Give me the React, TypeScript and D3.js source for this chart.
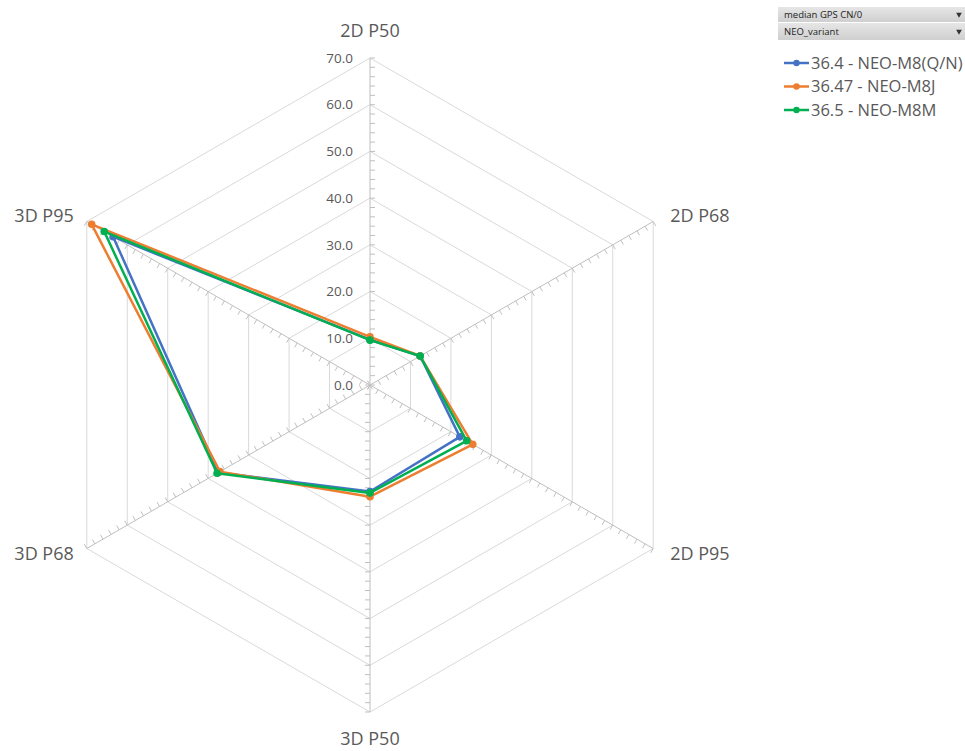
import React, { useEffect, useRef } from 'react';
import * as d3 from 'd3';

const axes = ['2D P50', '2D P68', '2D P95', '3D P50', '3D P68', '3D P95'];
const ringTicks = [0, 10, 20, 30, 40, 50, 60, 70];
const seriesNames = ['36.4 - NEO-M8(Q/N)', '36.47 - NEO-M8J', '36.5 - NEO-M8M'];
const seriesColors = ['#4472C4', '#ED7D31', '#00B050'];
const blueValues = [9.7, 12.4, 22.2, 22.8, 37.5, 63.5];
const orangeValues = [10.3, 12.4, 25.4, 23.9, 37.1, 68.8];
const greenValues = [9.6, 12.4, 23.9, 23.1, 37.8, 65.7];
const filterLabels = ['median GPS CN/0', 'NEO_variant'];

const FONT = "'Open Sans', 'Noto Sans', sans-serif";

const RadarChart: React.FC = () => {
  const svgRef = useRef<SVGSVGElement>(null);

  useEffect(() => {
    if (!svgRef.current) return;
    const svg = d3.select(svgRef.current);
    svg.selectAll('*').remove();

    const cx = 370;
    const cy = 385;
    const R = 327;

    const r = d3.scaleLinear().domain([0, 70]).range([0, R]);
    const angle = d3.scalePoint<string>().domain(axes).range([0, 300]);
    // screen point for axis + value
    const pt = (axis: string, v: number): [number, number] => {
      const a = ((angle(axis) || 0) * Math.PI) / 180;
      return [cx + r(v) * Math.sin(a), cy - r(v) * Math.cos(a)];
    };

    const g = svg.append('g');

    // hexagon grid rings
    ringTicks.slice(1).forEach(t => {
      const pts = axes.map(a => pt(a, t));
      g.append('path')
        .attr('d', d3.line()([...pts, pts[0]]))
        .attr('fill', 'none')
        .attr('stroke', '#d9d9d9')
        .attr('stroke-width', 1);
    });

    // spokes with minor ticks
    const tickSide = [1, 1, 1, 1, 1, -1];
    axes.forEach((a, i) => {
      const [x1, y1] = pt(a, 70);
      g.append('line')
        .attr('x1', cx).attr('y1', cy)
        .attr('x2', x1).attr('y2', y1)
        .attr('stroke', '#bfbfbf')
        .attr('stroke-width', 1);
      const ang = ((angle(a) || 0) * Math.PI) / 180;
      const dx = Math.sin(ang);
      const dy = -Math.cos(ang);
      const px = -dy * tickSide[i];
      const py = dx * tickSide[i];
      d3.range(0, 70.001, 2).forEach(v => {
        const [x, y] = pt(a, v);
        g.append('line')
          .attr('x1', x).attr('y1', y)
          .attr('x2', x + px * 5).attr('y2', y + py * 5)
          .attr('stroke', '#bfbfbf')
          .attr('stroke-width', 1);
      });
    });

    // value labels on the top axis
    ringTicks.forEach(t => {
      const [, y] = pt(axes[0], t);
      g.append('text')
        .attr('x', cx - 17)
        .attr('y', y)
        .attr('dy', '0.35em')
        .attr('text-anchor', 'end')
        .attr('font-family', FONT)
        .attr('font-size', 13.5)
        .attr('fill', '#595959')
        .text(d3.format('.1f')(t));
    });

    // category labels
    const labelOffset: [number, number, string][] = [
      [0, -21, 'middle'],
      [17, 0, 'start'],
      [17, 11, 'start'],
      [0, 33, 'middle'],
      [-13, 11, 'end'],
      [-13, 0, 'end'],
    ];
    axes.forEach((a, i) => {
      const [x, y] = pt(a, 70);
      g.append('text')
        .attr('x', x + labelOffset[i][0])
        .attr('y', y + labelOffset[i][1])
        .attr('text-anchor', labelOffset[i][2])
        .attr('font-family', FONT)
        .attr('font-size', 18)
        .attr('fill', '#595959')
        .text(a);
    });

    // series
    const allValues = [blueValues, orangeValues, greenValues];
    allValues.forEach((vals, si) => {
      const pts = axes.map((a, i) => pt(a, vals[i]));
      g.append('path')
        .attr('d', d3.line()([...pts, pts[0]]))
        .attr('fill', 'none')
        .attr('stroke', seriesColors[si])
        .attr('stroke-width', 2.5)
        .attr('stroke-linejoin', 'round');
      g.selectAll(null)
        .data(pts)
        .enter()
        .append('circle')
        .attr('cx', d => d[0])
        .attr('cy', d => d[1])
        .attr('r', 3.8)
        .attr('fill', seriesColors[si]);
    });

    // filter buttons
    const btn = svg.append('g');
    const grad = svg.append('defs').append('linearGradient')
      .attr('id', 'btnGrad').attr('x1', 0).attr('y1', 0).attr('x2', 0).attr('y2', 1);
    grad.append('stop').attr('offset', '0%').attr('stop-color', '#e6e6e6');
    grad.append('stop').attr('offset', '100%').attr('stop-color', '#cfcfcf');
    const btnY = [7, 23];
    const btnH = [15, 17];
    filterLabels.forEach((lab, i) => {
      btn.append('rect')
        .attr('x', 778).attr('y', btnY[i])
        .attr('width', 187).attr('height', btnH[i])
        .attr('fill', 'url(#btnGrad)');
      btn.append('text')
        .attr('x', 784)
        .attr('y', btnY[i] + btnH[i] / 2)
        .attr('dy', '0.35em')
        .attr('font-family', FONT)
        .attr('font-size', 9.5)
        .attr('fill', '#222')
        .text(lab);
      btn.append('path')
        .attr('d', d3.symbol().type(d3.symbolTriangle).size(14)())
        .attr('transform', `translate(959,${btnY[i] + btnH[i] / 2}) rotate(180)`)
        .attr('fill', '#333');
    });

    // legend
    const legendY = d3.scalePoint<string>().domain(seriesNames).range([63, 110]);
    seriesNames.forEach((name, i) => {
      const y = legendY(name) || 0;
      svg.append('line')
        .attr('x1', 784).attr('x2', 809)
        .attr('y1', y).attr('y2', y)
        .attr('stroke', seriesColors[i])
        .attr('stroke-width', 2.5);
      svg.append('circle')
        .attr('cx', 796.5).attr('cy', y).attr('r', 3.2)
        .attr('fill', seriesColors[i]);
      svg.append('text')
        .attr('x', 811)
        .attr('y', y)
        .attr('dy', '0.35em')
        .attr('font-family', FONT)
        .attr('font-size', 16.5)
        .attr('fill', '#595959')
        .text(name);
    });
  }, []);

  return (
    <svg
      ref={svgRef}
      width={965}
      height={751}
      style={{ position: 'absolute', left: 0, top: 0, background: '#fff' }}
    />
  );
};

export default function App() {
  return <RadarChart />;
}
